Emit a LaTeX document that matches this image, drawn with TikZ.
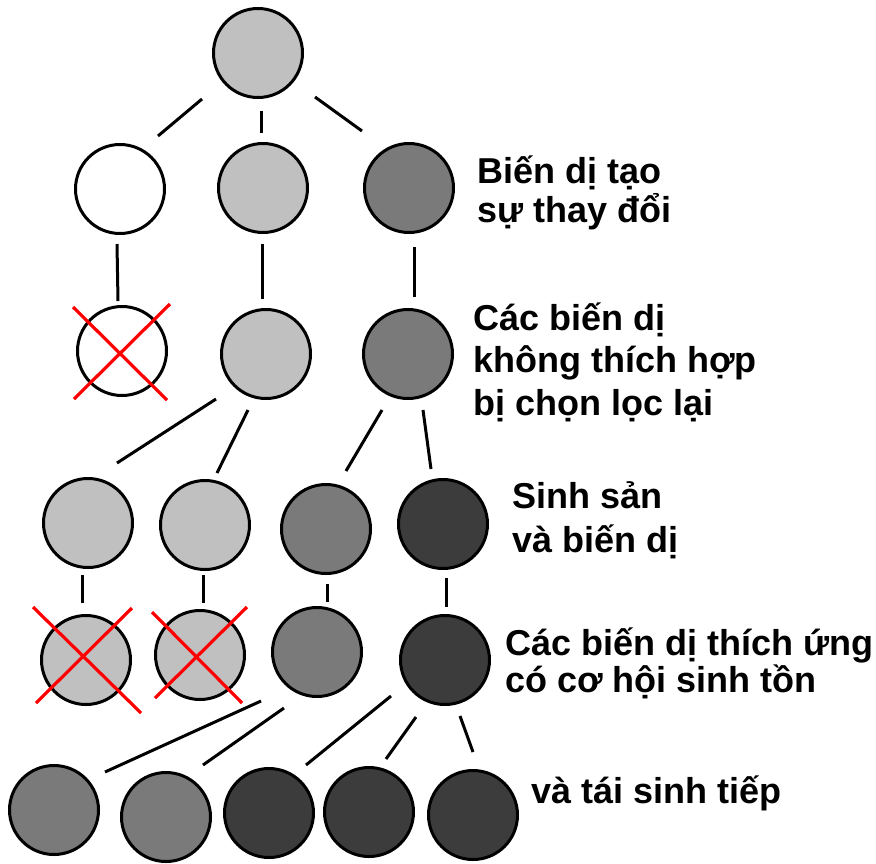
\documentclass[tikz,border=0pt]{standalone}
\usepackage{fontspec}
\setmainfont{Liberation Sans}
\usetikzlibrary{calc}
\definecolor{lightg}{RGB}{192,192,192}
\definecolor{midg}{RGB}{122,122,122}
\definecolor{darkg}{RGB}{60,60,60}
\newcommand\mylink[6]{\draw[conn] ($(#1)+(#2,#3)$) -- ($(#4)+(#5,#6)$);}
\newcommand\mycross[9]{\draw[xline] ($(#1)+(#2,#3)$) -- ($(#1)+(#4,#5)$);
  \draw[xline] ($(#1)+(#6,#7)$) -- ($(#1)+(#8,#9)$);}
\begin{document}
\begin{tikzpicture}[x=1pt,y=-1pt,
  cell/.style={circle,draw=black,line width=3pt,minimum size=89pt,inner sep=0pt},
  wh/.style={cell,fill=white},
  lg/.style={cell,fill=lightg},
  mg/.style={cell,fill=midg},
  dg/.style={cell,fill=darkg},
  conn/.style={draw=black,line width=3pt},
  xline/.style={draw=red,line width=3.2pt},
  lbl/.style={anchor=base west,inner sep=0pt,font=\fontsize{36}{42}\selectfont\bfseries}]
\useasboundingbox (0,0) rectangle (876,863);
\fill[white] (0,0) rectangle (876,863);
% circles
\node[lg] (r0) at (258,53) {};
\node[wh] (a1) at (120,189) {};
\node[lg] (a2) at (263,188) {};
\node[mg] (a3) at (409,188) {};
\node[wh] (b1) at (122,351) {};
\node[lg] (b2) at (266,354) {};
\node[mg] (b3) at (408,354) {};
\node[lg] (c1) at (88,523) {};
\node[lg] (c2) at (205,525) {};
\node[mg] (c3) at (326,529) {};
\node[dg] (c4) at (443,524) {};
\node[lg] (d1) at (86,660) {};
\node[lg] (d2) at (200,655) {};
\node[mg] (d3) at (317,652) {};
\node[dg] (d4) at (445,660) {};
\node[mg] (e1) at (54,810) {};
\node[mg] (e2) at (166,817) {};
\node[dg] (e3) at (269,813) {};
\node[dg] (e4) at (369,812) {};
\node[dg] (e5) at (473,815) {};
% connectors
\mylink{r0}{-56}{46}{a1}{38}{-53}
\mylink{r0}{3}{58}{a2}{-2}{-55}
\mylink{r0}{57}{44}{a3}{-47}{-57}
\mylink{a1}{-3}{55}{b1}{-4}{-50}
\mylink{a2}{-1}{56}{b2}{-4}{-55}
\mylink{a3}{5}{59}{b3}{6}{-57}
\mylink{b2}{-50}{45}{c1}{29}{-60}
\mylink{b2}{-18}{56}{c2}{12}{-52}
\mylink{b3}{-26}{56}{c3}{20}{-58}
\mylink{b3}{15}{56}{c4}{-12}{-55}
\mylink{c1}{-6}{52}{d1}{-4}{-57}
\mylink{c2}{-2}{50}{d2}{3}{-52}
\mylink{c3}{1}{55}{d3}{10}{-50}
\mylink{c4}{3}{54}{d4}{1}{-53}
\mylink{d3}{-56}{49}{e1}{51}{-38}
\mylink{d3}{-33}{56}{e2}{37}{-52}
\mylink{d4}{-54}{36}{e3}{37}{-48}
\mylink{d4}{-29}{57}{e4}{17}{-53}
\mylink{d4}{15}{56}{e5}{0}{-63}
% red crosses
\mycross{b1}{-49}{-44}{45}{49}{48}{-47}{-48}{48}
\mycross{d1}{-53}{-53}{55}{53}{46}{-52}{-50}{43}
\mycross{d2}{-48}{-43}{42}{48}{47}{-48}{-45}{43}
% labels
\node[lbl] (t1a) at (477,183) {Biến dị tạo};
\node[lbl] (t1b) at (477,222) {sự thay đổi};
\node[lbl] (t2a) at (473,330) {Các biến dị};
\node[lbl] (t2b) at (473,372) {không thích hợp};
\node[lbl] (t2c) at (473,415) {bị chọn lọc lại};
\node[lbl] (t3a) at (512,508) {Sinh sản};
\node[lbl] (t3b) at (512,552) {và biến dị};
\node[lbl] (t4a) at (505,655) {Các biến dị thích ứng};
\node[lbl] (t4b) at (505,692) {có cơ hội sinh tồn};
\node[lbl] (t5) at (531,803) {và tái sinh tiếp};
\end{tikzpicture}
\end{document}
